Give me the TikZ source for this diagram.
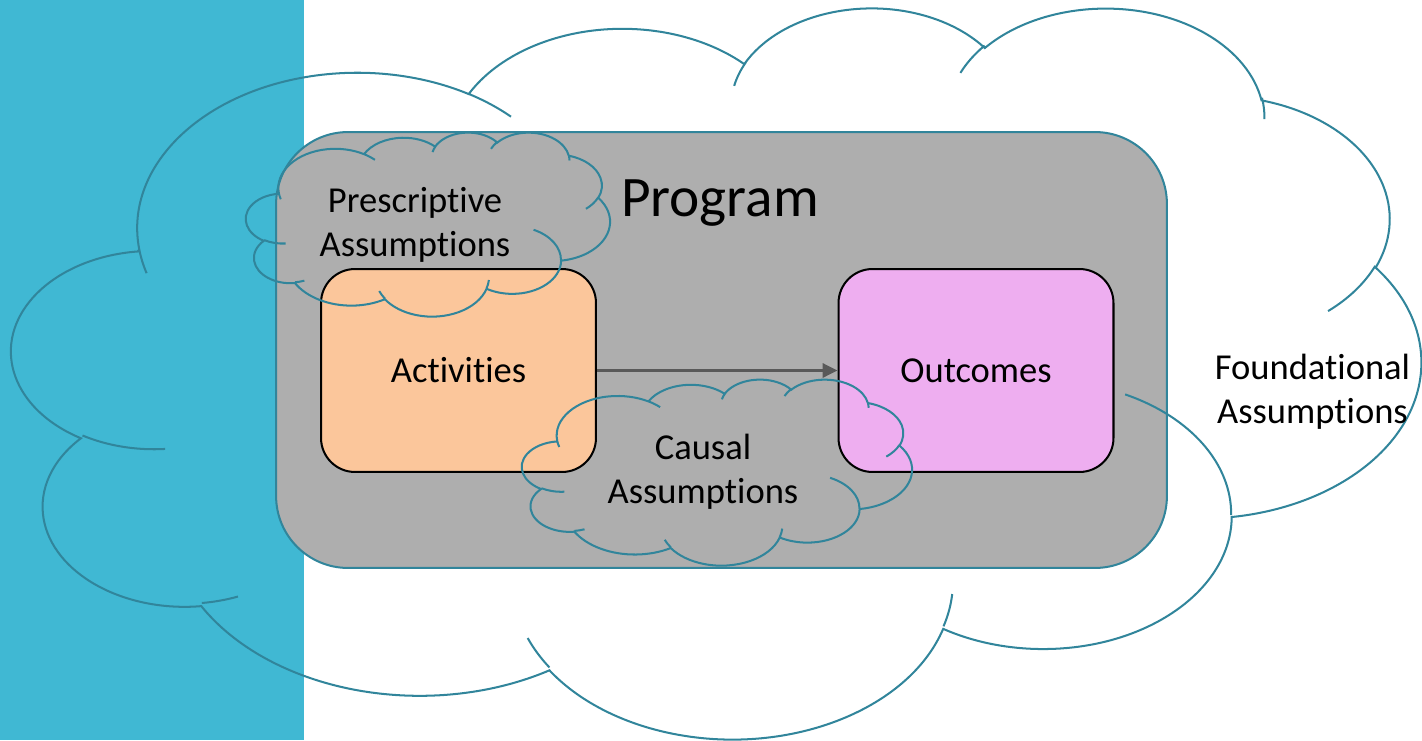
\documentclass[tikz,border=0pt]{standalone}
\usepackage{fontspec}
\setmainfont{Carlito}[Ligatures=NoCommon]
\usetikzlibrary{arrows.meta}
\definecolor{stripblue}{RGB}{64,184,211}
\definecolor{boxgray}{RGB}{174,174,174}
\definecolor{cloudteal}{RGB}{49,133,155}
\definecolor{actorange}{RGB}{251,198,155}
\definecolor{outpink}{RGB}{238,174,240}
\definecolor{arrowgray}{RGB}{89,89,89}

% parametric angles of the cloud arcs (visual angle -> parametric angle)
\newcommand\defarc[5]{%
  \pgfmathsetmacro\arcT{atan2((#2)*sin(#4),(#3)*cos(#4))}%
  \pgfmathsetmacro\arcT{\arcT-360*round((\arcT-(#4))/360)}%
  \pgfmathsetmacro\arcU{atan2((#2)*sin((#4)+(#5)),(#3)*cos((#4)+(#5)))}%
  \pgfmathsetmacro\arcU{\arcU-360*round((\arcU-(#4)-(#5))/360)}%
  \pgfmathsetmacro\arcS{0-(\arcT)}%
  \pgfmathsetmacro\arcD{(\arcT)-(\arcU)}%
  \expandafter\let\csname cldS#1\endcsname\arcS
  \expandafter\let\csname cldD#1\endcsname\arcD
}
\defarc{A}{6.753}{9.190}{-190.48748}{123.78053}
\defarc{B}{5.333}{7.267}{-144.10238}{89.94523}
\defarc{C}{4.365}{5.945}{-145.80792}{99.72302}
\defarc{D}{4.857}{6.595}{-130.98607}{117.24173}
\defarc{E}{5.333}{7.273}{-78.70888}{109.02692}
\defarc{F}{6.775}{9.220}{-46.26725}{130.26900}
\defarc{G}{5.785}{7.867}{0.62502}{114.03333}
\defarc{H}{6.752}{9.215}{22.45160}{115.17255}
\defarc{I}{7.720}{10.543}{66.24263}{75.71102}
\defarc{J}{4.360}{5.918}{-274.94208}{146.73557}
\defarc{K}{4.345}{5.945}{-246.82850}{152.51885}
\defarc{a}{4.345}{5.945}{86.74200}{26.42950}
\defarc{b}{4.360}{5.918}{73.61047}{11.44747}
\defarc{c}{6.752}{9.215}{137.62415}{14.08110}
\defarc{d}{6.752}{9.215}{6.45327}{15.99835}
\defarc{e}{5.785}{7.867}{-70.29235}{70.91737}
\defarc{f}{5.333}{7.273}{30.31803}{27.75150}
\defarc{g}{4.857}{6.595}{-13.74433}{14.85890}
\defarc{h}{4.857}{6.595}{-149.18145}{18.19537}
\defarc{i}{4.365}{5.945}{-163.49427}{17.68635}
\defarc{j}{6.753}{9.190}{-66.70695}{12.31935}
\defarc{k}{6.753}{9.190}{157.65435}{11.85817}

\newcommand\carc[3]{arc[x radius={#2*\kx*1pt}, y radius={#3*\ky*1pt},
  start angle={\csname cldS#1\endcsname}, delta angle={\csname cldD#1\endcsname}]}

% cloud outline: #1 style, #2 left, #3 top, #4 width, #5 height (px)
\newcommand\cloudshape[5]{%
  \pgfmathsetmacro\kx{#4/43.2*0.569055}%
  \pgfmathsetmacro\ky{#5/43.2*0.569055}%
  \pgfmathsetmacro\ux{#4/43.2}%
  \pgfmathsetmacro\uy{#5/43.2}%
  \draw[#1] ({#2+3.900*\ux},{#3+14.370*\uy})
    \carc{A}{6.753}{9.190} \carc{B}{5.333}{7.267} \carc{C}{4.365}{5.945}
    \carc{D}{4.857}{6.595} \carc{E}{5.333}{7.273} \carc{F}{6.775}{9.220}
    \carc{G}{5.785}{7.867} \carc{H}{6.752}{9.215} \carc{I}{7.720}{10.543}
    \carc{J}{4.360}{5.918} \carc{K}{4.345}{5.945} -- cycle
    ({#2+4.693*\ux},{#3+26.177*\uy}) \carc{a}{4.345}{5.945}
    ({#2+6.928*\ux},{#3+34.899*\uy}) \carc{b}{4.360}{5.918}
    ({#2+16.478*\ux},{#3+39.090*\uy}) \carc{c}{6.752}{9.215}
    ({#2+28.827*\ux},{#3+34.751*\uy}) \carc{d}{6.752}{9.215}
    ({#2+34.129*\ux},{#3+22.954*\uy}) \carc{e}{5.785}{7.867}
    ({#2+41.798*\ux},{#3+15.354*\uy}) \carc{f}{5.333}{7.273}
    ({#2+38.324*\ux},{#3+5.426*\uy}) \carc{g}{4.857}{6.595}
    ({#2+29.078*\ux},{#3+3.952*\uy}) \carc{h}{4.857}{6.595}
    ({#2+22.141*\ux},{#3+4.720*\uy}) \carc{i}{4.365}{5.945}
    ({#2+14.000*\ux},{#3+5.192*\uy}) \carc{j}{6.753}{9.190}
    ({#2+4.127*\ux},{#3+15.789*\uy}) \carc{k}{6.753}{9.190};
}

\begin{document}
\begin{tikzpicture}[x=0.02cm,y=-0.02cm,
  cloudline/.style={draw=cloudteal, line width=1.15pt},
  programbox/.style={draw=cloudteal, fill=boxgray, line width=1.15pt,
    rounded corners=1.44cm, minimum width=17.82cm, minimum height=8.72cm, inner sep=0pt},
  stagebox/.style={draw=black, line width=1.15pt, rounded corners=0.68cm,
    minimum width=5.5cm, minimum height=4.06cm, inner sep=0pt,
    font=\fontsize{20.8}{25}\selectfont},
  txt/.style={align=center, inner sep=0pt, font=\fontsize{20.8}{25}\selectfont},
  bigtxt/.style={inner sep=0pt, font=\fontsize{32.6}{38}\selectfont},
  flow/.style={draw=arrowgray, line width=1.7pt, -{Triangle[length=8.5pt,width=8pt]}}]
\useasboundingbox (0,0) rectangle (1422,740);
\fill[stripblue] (0,0) rectangle (304,740);
\node[programbox] (program) at (721.5,350) {};
\node[stagebox, fill=actorange] (act) at (458.5,370.5) {Activities};
\node[stagebox, fill=outpink] (out) at (976,370.5) {Outcomes};
\draw[flow] (act.east) -- (out.west);
\cloudshape{cloudline}{12}{6}{1409}{731}
\cloudshape{cloudline}{246}{132}{364}{184}
\cloudshape{cloudline}{522}{379}{390}{186}
\node[bigtxt, anchor=base] (progtxt) at (720,216) {Program};
\node[txt] (presc) at (415,225) {Prescriptive\\Assumptions};
\node[txt] (causal) at (703,472) {Causal\\Assumptions};
\node[txt] (found) at (1312.5,391.5) {Foundational\\Assumptions};
\end{tikzpicture}
\end{document}
